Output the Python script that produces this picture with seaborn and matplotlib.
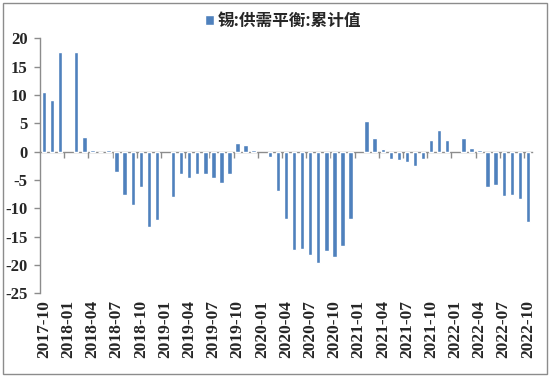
import matplotlib
matplotlib.use("Agg")
import matplotlib.pyplot as plt
import numpy as np
import pandas as pd
import seaborn as sns
from matplotlib.font_manager import FontProperties
from matplotlib.patches import Rectangle

months = pd.period_range("2017-10", "2022-10", freq="M").strftime("%Y-%m").tolist()
values = [
    10.5, 9.1, 17.6, np.nan, 17.6, 2.6, 0.3, 0.0, 0.3, -3.5, -7.6, -9.4,
    -6.2, -13.3, -12.1, np.nan, -8.0, -3.9, -4.6, -3.9, -3.9, -4.6, -5.5, -3.9,
    1.5, 1.1, 0.35, np.nan, -0.9, -6.9, -11.8, -17.3, -17.1, -18.3, -19.6, -17.6,
    -18.5, -16.7, -11.8, np.nan, 5.5, 2.35, 0.5, -1.3, -1.5, -1.9, -2.6, -1.3,
    2.1, 3.9, 2.1, np.nan, 2.5, 0.7, 0.3, -6.3, -5.8, -7.9, -7.6, -8.3,
    -12.4,
]
series_name = "锡:供需平衡:累计值"
yticks = [20, 15, 10, 5, 0, -5, -10, -15, -20, -25]

df = pd.DataFrame({"month": months, "value": values})

sns.set_theme(style="white")
plt.rcParams["font.family"] = ["Noto Sans CJK SC", "DejaVu Sans"]
plt.rcParams["axes.unicode_minus"] = False

bar_color = "#4F81BD"
grey = "#8c8c8c"

fig = plt.figure(figsize=(5.5, 3.77), dpi=100)
ax = fig.add_axes([0.0727, 0.2218, 0.8945, 0.6764])

sns.barplot(data=df, x="month", y="value", order=months, color=bar_color,
            width=0.55, errorbar=None, saturation=1, ax=ax, label=series_name)

ax.set_xlim(-0.5, len(months) - 0.5)
ax.set_ylim(-25, 20)
ax.set_xlabel("")
ax.set_ylabel("")

for s in ["top", "right", "bottom"]:
    ax.spines[s].set_visible(False)
ax.spines["left"].set_color(grey)
ax.spines["left"].set_linewidth(1)

yfont = FontProperties(family="Liberation Serif", weight="bold", size=12)
xfont = FontProperties(family="Liberation Serif", weight="bold", size=12.5)

ax.set_yticks(yticks)
ax.set_yticklabels([str(v) for v in yticks], fontproperties=yfont)
ax.tick_params(axis="y", direction="out", length=4, width=1, color=grey, pad=5, left=True)

label_idx = list(range(0, len(months), 3))
ax.set_xticks(label_idx)
ax.set_xticklabels([months[i] for i in label_idx], rotation=90, fontproperties=xfont)
ax.tick_params(axis="x", length=0, pad=5)

# zero line with boundary ticks
zero_frac = (0 - (-25)) / 45
sec = ax.secondary_xaxis(zero_frac)
sec.set_xticks([i - 0.5 for i in range(3, len(months), 3)])
sec.set_xticklabels([])
sec.tick_params(axis="x", direction="in", length=4, width=1, color=grey)
for s in sec.spines.values():
    s.set_color(grey)
    s.set_linewidth(1)

ax.legend(loc="center", bbox_to_anchor=(0.515, 0.945), bbox_transform=fig.transFigure,
          frameon=False, handlelength=0.55, handleheight=0.55, handletextpad=0.2,
          prop={"size": 12, "weight": "bold"})

fig.patches.append(Rectangle((0.006, 0.008), 0.988, 0.984, transform=fig.transFigure,
                             fill=False, edgecolor=grey, linewidth=1))

fig.savefig("out.png", dpi=100)
plt.close(fig)
